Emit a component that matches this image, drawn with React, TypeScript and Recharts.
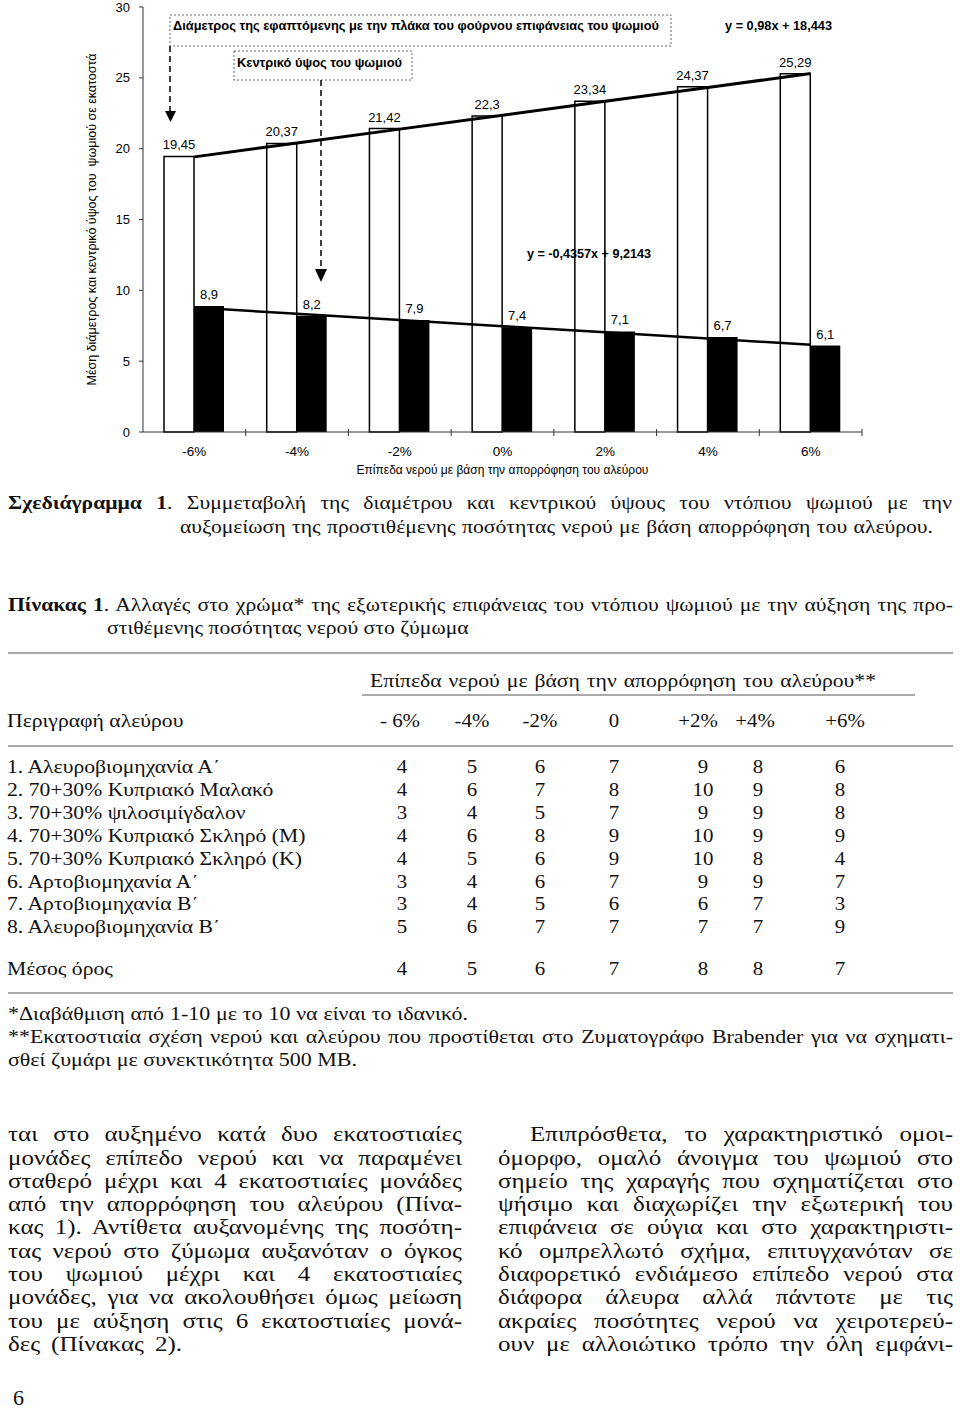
import React from "react";
import { ComposedChart, Bar, Line, XAxis, YAxis, LabelList, Label } from "recharts";

// water levels (x axis)
const levels = ["-6%", "-4%", "-2%", "0%", "2%", "4%", "6%"];
// mean diameter touching the oven plate (cm)
const diameter = [19.45, 20.37, 21.42, 22.3, 23.34, 24.37, 25.29];
// central height (cm)
const height = [8.9, 8.2, 7.9, 7.4, 7.1, 6.7, 6.1];
// linear trend lines
const diameterTrend = [19.42, 20.4, 21.38, 22.36, 23.34, 24.32, 25.3];
const heightTrend = [8.78, 8.34, 7.91, 7.47, 7.04, 6.6, 6.16];
const yTicks = [0, 5, 10, 15, 20, 25, 30];

const yTitle = "Μέση διάμετρος και κεντρικό ύψος του  ψωμιού σε εκατοστά";
const xTitle = "Επίπεδα νερού με βάση την απορρόφηση του αλεύρου";
const box1 = "Διάμετρος της εφαπτόμενης με την πλάκα του φούρνου επιφάνειας του ψωμιού";
const box2 = "Κεντρικό ύψος του ψωμιού";
const eq1 = "y = 0,98x + 18,443";
const eq2 = "y = -0,4357x + 9,2143";

// table 1
const tableLevels = ["- 6%", "-4%", "-2%", "0", "+2%", "+4%", "+6%"];
const flours = [
  "1. Αλευροβιομηχανία Α΄",
  "2. 70+30% Κυπριακό Μαλακό",
  "3. 70+30% ψιλοσιμίγδαλον",
  "4. 70+30% Κυπριακό Σκληρό (Μ)",
  "5. 70+30% Κυπριακό Σκληρό (Κ)",
  "6. Αρτοβιομηχανία Α΄",
  "7. Αρτοβιομηχανία Β΄",
  "8. Αλευροβιομηχανία Β΄",
];
const scores = [
  [4, 5, 6, 7, 9, 8, 6],
  [4, 6, 7, 8, 10, 9, 8],
  [3, 4, 5, 7, 9, 9, 8],
  [4, 6, 8, 9, 10, 9, 9],
  [4, 5, 6, 9, 10, 8, 4],
  [3, 4, 6, 7, 9, 9, 7],
  [3, 4, 5, 6, 6, 7, 3],
  [5, 6, 7, 7, 7, 7, 9],
];
const meanScores = [4, 5, 6, 7, 8, 8, 7];

const leftColumn = [
  "ται στο αυξημένο κατά δυο εκατοστιαίες",
  "μονάδες επίπεδο νερού και να παραμένει",
  "σταθερό μέχρι και 4 εκατοστιαίες μονάδες",
  "από την απορρόφηση του αλεύρου (Πίνα-",
  "κας 1). Αντίθετα αυξανομένης της ποσότη-",
  "τας νερού στο ζύμωμα αυξανόταν ο όγκος",
  "του ψωμιού μέχρι και 4 εκατοστιαίες",
  "μονάδες, για να ακολουθήσει όμως μείωση",
  "του με αύξηση στις 6 εκατοστιαίες μονά-",
  "δες (Πίνακας 2).",
];
const rightColumn = [
  "Επιπρόσθετα, το χαρακτηριστικό ομοι-",
  "όμορφο, ομαλό άνοιγμα του ψωμιού στο",
  "σημείο της χαραγής που σχηματίζεται στο",
  "ψήσιμο και διαχωρίζει την εξωτερική του",
  "επιφάνεια σε ούγια και στο χαρακτηριστι-",
  "κό ομπρελλωτό σχήμα, επιτυγχανόταν σε",
  "διαφορετικό ενδιάμεσο επίπεδο νερού στα",
  "διάφορα άλευρα αλλά πάντοτε με τις",
  "ακραίες ποσότητες νερού να χειροτερεύ-",
  "ουν με αλλοιώτικο τρόπο την όλη εμφάνι-",
];

const chartData = levels.map((level, i) => ({
  level,
  diameter: diameter[i],
  height: height[i],
  diameterTrend: diameterTrend[i],
  heightTrend: heightTrend[i],
}));

const sans = "'Liberation Sans', Arial, sans-serif";
const serif = "'Liberation Serif', 'Times New Roman', serif";
const comma = (v: any) => String(v).replace(".", ",");

const XTick = (props: any) => {
  const { x, y, payload } = props;
  const half = payload && payload.offset ? payload.offset : 0;
  const axisY = y - 14;
  return (
    <g>
      <text x={x} y={y} dy="0.71em" textAnchor="middle" fontSize={13.5} fontFamily={sans} fill="#000">
        {payload.value}
      </text>
      {half > 0 && (
        <line x1={x + half} x2={x + half} y1={axisY - 3} y2={axisY + 4} stroke="#333" strokeWidth={1} />
      )}
    </g>
  );
};

const YTitle = (props: any) => {
  const vb = props.viewBox || { x: 0, y: 0, width: 0, height: 0 };
  const cx = vb.x + vb.width - 51;
  const cy = vb.y + vb.height / 2;
  return (
    <text
      x={cx}
      y={cy}
      transform={`rotate(-90 ${cx} ${cy})`}
      textAnchor="middle"
      dominantBaseline="central"
      fontSize={12.5}
      fontFamily={sans}
      fill="#000"
      style={{ whiteSpace: "pre" }}
    >
      {yTitle}
    </text>
  );
};

type TLProps = {
  x1: number;
  x2: number;
  base: number;
  fs: number;
  s: number;
  children: React.ReactNode;
  align?: "justify" | "left";
};

function TextLine({ x1, x2, base, fs, s, children, align = "justify" }: TLProps) {
  return (
    <div
      style={{
        position: "absolute",
        left: x1,
        top: base - 0.8375 * fs,
        width: (x2 - x1) / s,
        transform: `scaleX(${s})`,
        transformOrigin: "left top",
        fontSize: fs,
        lineHeight: `${fs}px`,
        fontFamily: serif,
        color: "#111",
        whiteSpace: "nowrap",
        textAlign: align,
        textAlignLast: align,
      }}
    >
      {children}
    </div>
  );
}

function Cell({ cx, base, fs, children }: { cx: number; base: number; fs: number; children: React.ReactNode }) {
  return (
    <div
      style={{
        position: "absolute",
        left: cx - 40,
        top: base - 0.8375 * fs,
        width: 80,
        textAlign: "center",
        fontSize: fs,
        lineHeight: `${fs}px`,
        fontFamily: serif,
        color: "#111",
        transform: "scaleX(1.1)",
      }}
    >
      {children}
    </div>
  );
}

const Rule = ({ x1, x2, y }: { x1: number; x2: number; y: number }) => (
  <div style={{ position: "absolute", left: x1, top: y - 1, width: x2 - x1, height: 2, background: "#aaa" }} />
);

export default function App() {
  const fsT = 19;
  const sT = 1.14;
  const fsB = 20;
  const sB = 1.25;
  const fsF = 18;
  const sF = 1.22;
  const headCx = [400, 472, 540, 614, 698, 755, 845];
  const valCx = [402, 472, 540, 614, 703, 758, 840];
  const rowBase = (i: number) => 773 + 22.9 * i;
  const bodyBase = (i: number) => 1141 + 23.3 * i;

  return (
    <div style={{ position: "absolute", left: 0, top: 0, width: 960, height: 1412, background: "#fff", overflow: "hidden" }}>
      <div style={{ position: "absolute", left: 0, top: 0 }}>
        <ComposedChart
          width={960}
          height={480}
          data={chartData}
          margin={{ top: 7, right: 98, bottom: 0, left: 0 }}
          barGap={0}
          barSize={30}
        >
          <XAxis
            dataKey="level"
            height={48}
            interval={0}
            tickLine={false}
            tickSize={0}
            tickMargin={14}
            tick={<XTick />}
            axisLine={{ stroke: "#333", strokeWidth: 1 }}
          >
            <Label value={xTitle} position="insideBottom" offset={6} fontSize={12} fontFamily={sans} fill="#000" />
          </XAxis>
          <YAxis
            width={143}
            domain={[0, 30]}
            ticks={yTicks}
            interval={0}
            tickSize={4}
            tickMargin={9}
            tick={{ fontSize: 13, fontFamily: sans, fill: "#000" }}
            tickLine={{ stroke: "#333" }}
            axisLine={{ stroke: "#333", strokeWidth: 1 }}
          >
            <Label content={<YTitle />} />
          </YAxis>
          <Bar dataKey="diameter" fill="#fff" stroke="#000" strokeWidth={1.5} isAnimationActive={false}>
            <LabelList
              dataKey="diameter"
              position="top"
              offset={7}
              formatter={comma}
              fontSize={13}
              fontFamily={sans}
              fill="#000"
            />
          </Bar>
          <Bar dataKey="height" fill="#000" isAnimationActive={false}>
            <LabelList
              dataKey="height"
              position="top"
              offset={7}
              formatter={comma}
              fontSize={13}
              fontFamily={sans}
              fill="#000"
            />
          </Bar>
          <Line
            dataKey="diameterTrend"
            type="linear"
            stroke="#000"
            strokeWidth={3}
            dot={false}
            activeDot={false}
            isAnimationActive={false}
          />
          <Line
            dataKey="heightTrend"
            type="linear"
            stroke="#000"
            strokeWidth={2.5}
            dot={false}
            activeDot={false}
            isAnimationActive={false}
          />
        </ComposedChart>
      </div>

      {/* chart annotations */}
      <svg width={960} height={480} style={{ position: "absolute", left: 0, top: 0, pointerEvents: "none" }}>
        <rect x={170} y={15} width={501} height={31} fill="none" stroke="#666" strokeWidth={1} strokeDasharray="2 2" />
        <text x={173} y={30} fontSize={12.5} fontWeight="bold" fontFamily={sans} fill="#000" textLength={486} lengthAdjust="spacingAndGlyphs">
          {box1}
        </text>
        <line x1={170} x2={170} y1={46} y2={111} stroke="#000" strokeWidth={1.5} strokeDasharray="6 4" />
        <polygon points="165,111 176,111 170.5,122" fill="#000" />

        <rect x={234} y={51} width={178} height={29} fill="#fff" stroke="#666" strokeWidth={1} strokeDasharray="2 2" />
        <text x={237} y={67} fontSize={12.5} fontWeight="bold" fontFamily={sans} fill="#000" textLength={165} lengthAdjust="spacingAndGlyphs">
          {box2}
        </text>
        <line x1={321} x2={321} y1={80} y2={270} stroke="#000" strokeWidth={1.5} strokeDasharray="6 4" />
        <polygon points="315,269 327,269 321,282" fill="#000" />

        <text x={725} y={30} fontSize={12.5} fontWeight="bold" fontFamily={sans} fill="#000" textLength={107} lengthAdjust="spacingAndGlyphs">
          {eq1}
        </text>
        <text x={527} y={258} fontSize={12.5} fontWeight="bold" fontFamily={sans} fill="#000" textLength={124} lengthAdjust="spacingAndGlyphs">
          {eq2}
        </text>
      </svg>

      {/* figure caption */}
      <TextLine x1={8} x2={952} base={509} fs={fsT} s={sT}>
        <b>Σχεδιάγραμμα 1</b>. Συμμεταβολή της διαμέτρου και κεντρικού ύψους του ντόπιου ψωμιού με την
      </TextLine>
      <TextLine x1={180} x2={933} base={533} fs={fsT} s={sT}>
        αυξομείωση της προστιθέμενης ποσότητας νερού με βάση απορρόφηση του αλεύρου.
      </TextLine>

      {/* table caption */}
      <TextLine x1={8} x2={953} base={611} fs={fsT} s={sT}>
        <b>Πίνακας 1</b>. Αλλαγές στο χρώμα* της εξωτερικής επιφάνειας του ντόπιου ψωμιού με την αύξηση της προ-
      </TextLine>
      <TextLine x1={107} x2={347} base={634} fs={fsT} s={sT}>
        στιθέμενης ποσότητας νερού στο ζύμωμα
      </TextLine>

      <Rule x1={8} x2={953} y={653} />
      <TextLine x1={370} x2={876} base={687} fs={fsT} s={sT}>
        Επίπεδα νερού με βάση την απορρόφηση του αλεύρου**
      </TextLine>
      <Rule x1={362} x2={915} y={695} />
      <TextLine x1={7} x2={400} base={727} fs={fsT} s={sT} align="left">
        Περιγραφή αλεύρου
      </TextLine>
      {tableLevels.map((t, j) => (
        <Cell key={`h${j}`} cx={headCx[j]} base={727} fs={fsT}>
          {t}
        </Cell>
      ))}
      <Rule x1={8} x2={953} y={746} />

      {flours.map((name, i) => (
        <React.Fragment key={`r${i}`}>
          <TextLine x1={7} x2={380} base={rowBase(i)} fs={fsT} s={sT} align="left">
            {name}
          </TextLine>
          {scores[i].map((v, j) => (
            <Cell key={`c${i}-${j}`} cx={valCx[j]} base={rowBase(i)} fs={fsT}>
              {v}
            </Cell>
          ))}
        </React.Fragment>
      ))}
      <TextLine x1={7} x2={380} base={975} fs={fsT} s={sT} align="left">
        Μέσος όρος
      </TextLine>
      {meanScores.map((v, j) => (
        <Cell key={`m${j}`} cx={valCx[j]} base={975} fs={fsT}>
          {v}
        </Cell>
      ))}
      <Rule x1={8} x2={953} y={993} />

      {/* footnotes */}
      <TextLine x1={8} x2={468} base={1020} fs={fsF} s={sF}>
        *Διαβάθμιση από 1-10 με το 10 να είναι το ιδανικό.
      </TextLine>
      <TextLine x1={8} x2={953} base={1043} fs={fsF} s={sF}>
        **Εκατοστιαία σχέση νερού και αλεύρου που προστίθεται στο Ζυματογράφο Brabender για να σχηματι-
      </TextLine>
      <TextLine x1={8} x2={357} base={1066} fs={fsF} s={sF}>
        σθεί ζυμάρι με συνεκτικότητα 500 MB.
      </TextLine>

      {/* body text */}
      {leftColumn.map((t, i) => (
        <TextLine key={`l${i}`} x1={8} x2={i === leftColumn.length - 1 ? 182 : 462} base={bodyBase(i)} fs={fsB} s={sB}>
          {t}
        </TextLine>
      ))}
      {rightColumn.map((t, i) => (
        <TextLine key={`rc${i}`} x1={i === 0 ? 530 : 498} x2={953} base={bodyBase(i)} fs={fsB} s={sB}>
          {t}
        </TextLine>
      ))}
      <TextLine x1={13} x2={25} base={1405} fs={fsB} s={1.1} align="left">
        6
      </TextLine>
    </div>
  );
}
